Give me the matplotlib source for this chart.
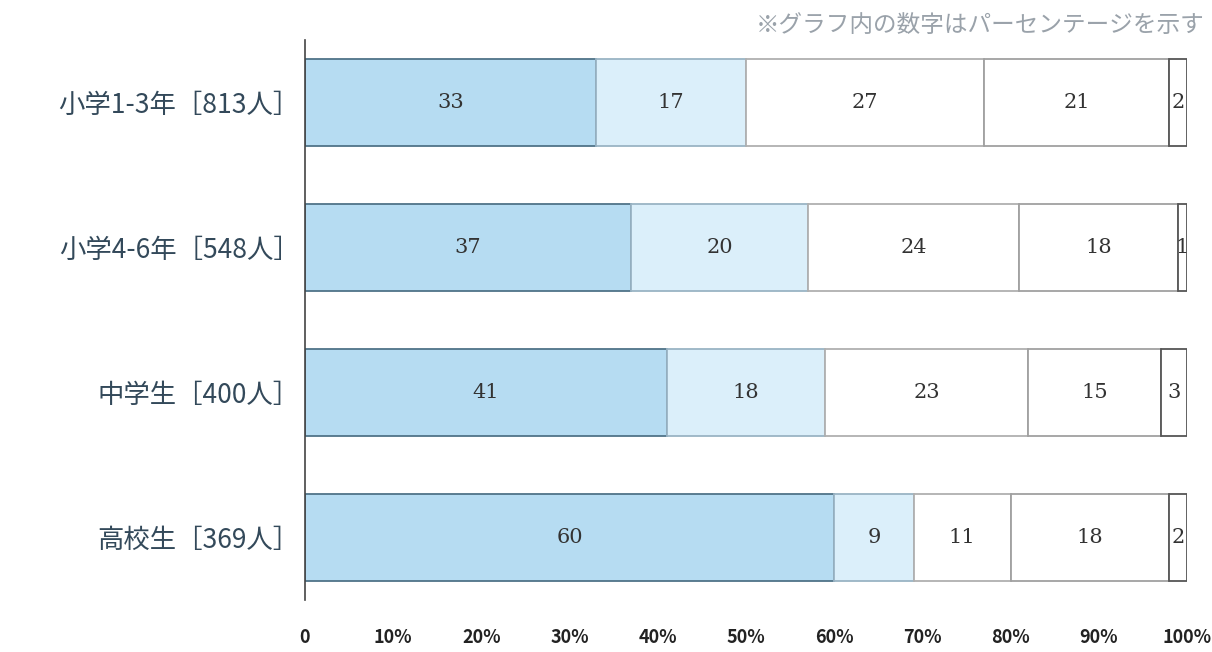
import numpy as np
import matplotlib
matplotlib.use("Agg")
import matplotlib.pyplot as plt

plt.rcParams['font.family'] = ['Noto Sans CJK JP', 'DejaVu Sans']

## data
groups = ["小学1-3年［813人］", "小学4-6年［548人］", "中学生［400人］", "高校生［369人］"]
seg1 = [33, 37, 41, 60]
seg2 = [17, 20, 18, 9]
seg3 = [27, 24, 23, 11]
seg4 = [21, 18, 15, 18]
seg5 = [2, 1, 3, 2]
xticks = [0, 10, 20, 30, 40, 50, 60, 70, 80, 90, 100]
xticklabels = ["0"] + ["%d%%" % t for t in xticks[1:]]
note = "※グラフ内の数字はパーセンテージを示す"

segments = [seg1, seg2, seg3, seg4, seg5]
fills = ["#b6dcf2", "#dbeffa", "#ffffff", "#ffffff", "#ffffff"]
edges = ["#4f7388", "#9ab4c4", "#b0b0b0", "#a0a0a0", "#555555"]

fig = plt.figure(figsize=(12.12, 6.52), dpi=100)
ax = fig.add_axes([305/1212, 52/652, (1187-305)/1212, (612-52)/652])

y = np.arange(len(groups))
left = np.zeros(len(groups))
for vals, fc, ec in zip(segments, fills, edges):
    vals = np.array(vals, dtype=float)
    ax.barh(y, vals, left=left, height=0.6, color=fc, edgecolor=ec, linewidth=1.3)
    for yi, l, v in zip(y, left, vals):
        ax.text(l + v/2, yi, "%d" % v, ha="center", va="center",
                fontsize=15, color="#333333", family=["DejaVu Serif"])
    left += vals

ax.set_xlim(0, 100)
ax.set_ylim(3.43, -0.43)
ax.set_yticks(y)
ax.set_yticklabels(groups, fontsize=19, color="#33495a")
ax.set_xticks(xticks)
ax.set_xticklabels(xticklabels, fontsize=13, color="#222222", fontweight="bold")
ax.tick_params(axis="y", length=0, pad=4)
ax.tick_params(axis="x", length=0, pad=20)
for s in ["top", "right", "bottom"]:
    ax.spines[s].set_visible(False)
ax.spines["left"].set_color("#444444")
ax.spines["left"].set_linewidth(1.2)

fig.text(1205/1212, 1 - 25/652, note, ha="right", va="center",
         fontsize=17, color="#9aa2aa")

plt.savefig("out.png", dpi=100)
